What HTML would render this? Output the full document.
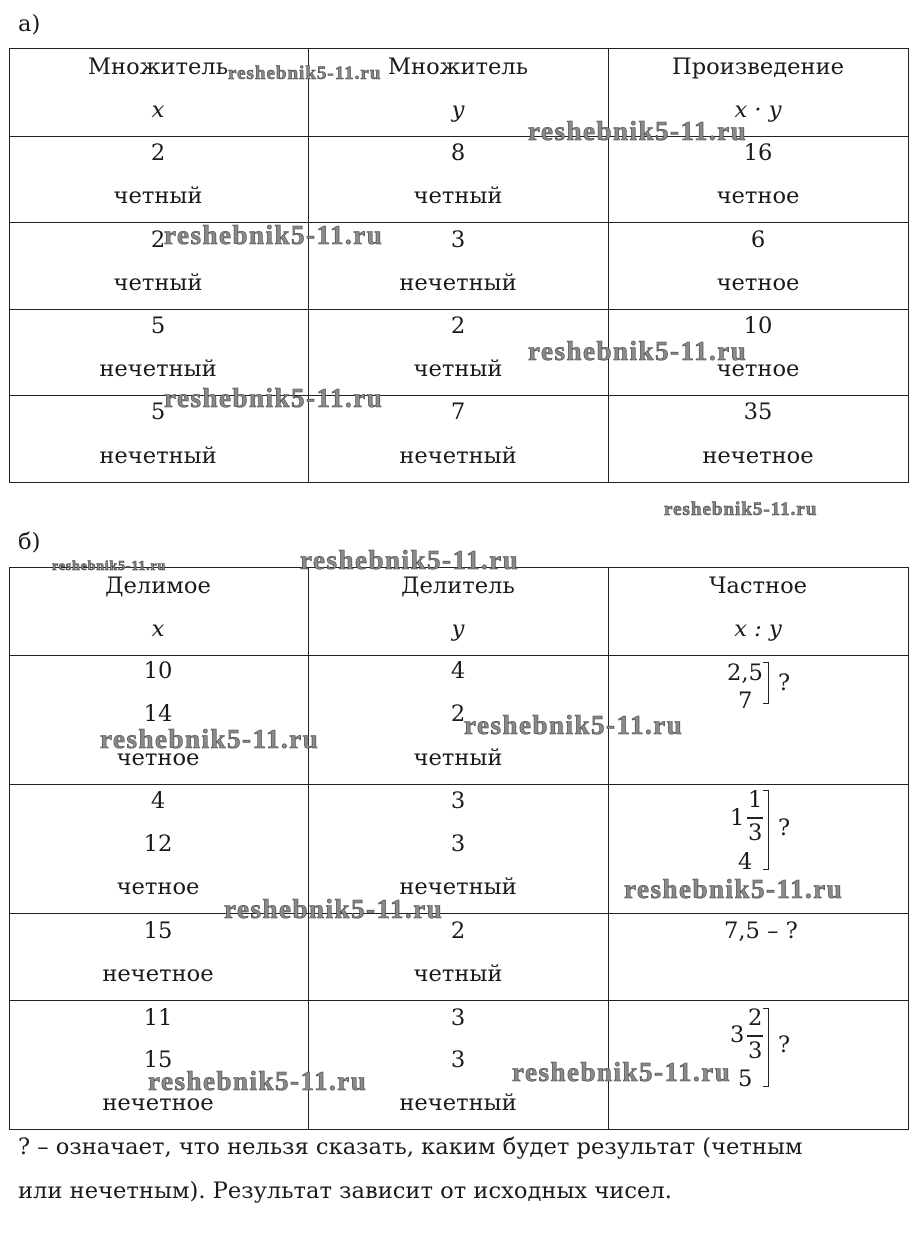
<!DOCTYPE html><html><head><meta charset="utf-8"><style>
body{margin:0;width:919px;height:1253px;background:#fff;position:relative;overflow:hidden;font-family:"DejaVu Serif","Liberation Serif",serif;color:#1a1a1a}
.t{position:absolute;font-size:22.6px;line-height:26px;white-space:nowrap;transform:translateX(-50%)}
.l{position:absolute;font-size:22.6px;line-height:26px;white-space:nowrap}
.i{font-style:italic}
.h{position:absolute;background:#222;height:1px}
.v{position:absolute;background:#222;width:1px}
.w{position:absolute;font-family:"Liberation Serif",serif;font-weight:bold;color:#8a8a8a;-webkit-text-stroke:0.6px #444;white-space:nowrap;line-height:1;font-size:27px;letter-spacing:1.5px}
.s{font-size:19px;letter-spacing:1px}
.xs{font-size:14px;letter-spacing:0.8px}
.br{position:absolute;border:1.5px solid #222;border-left:none;width:5px}
.fr{position:absolute;height:1.5px;background:#222;width:16px}
</style></head><body>
<div class="l" style="left:18px;top:11px">а)</div>
<div class="h" style="left:9px;width:900px;top:48px"></div>
<div class="h" style="left:9px;width:900px;top:136px"></div>
<div class="h" style="left:9px;width:900px;top:222px"></div>
<div class="h" style="left:9px;width:900px;top:309px"></div>
<div class="h" style="left:9px;width:900px;top:395px"></div>
<div class="h" style="left:9px;width:900px;top:482px"></div>
<div class="v" style="left:9px;top:48px;height:435px"></div>
<div class="v" style="left:308px;top:48px;height:435px"></div>
<div class="v" style="left:608px;top:48px;height:435px"></div>
<div class="v" style="left:908px;top:48px;height:435px"></div>

<div class="t" style="left:158px;top:54px">Множитель</div><div class="t i" style="left:158px;top:97px">x</div>
<div class="t" style="left:458px;top:54px">Множитель</div><div class="t i" style="left:458px;top:97px">y</div>
<div class="t" style="left:758px;top:54px">Произведение</div><div class="t i" style="left:758px;top:97px">x · y</div>

<div class="t" style="left:158px;top:140px">2</div><div class="t" style="left:158px;top:183px">четный</div>
<div class="t" style="left:458px;top:140px">8</div><div class="t" style="left:458px;top:183px">четный</div>
<div class="t" style="left:758px;top:140px">16</div><div class="t" style="left:758px;top:183px">четное</div>

<div class="t" style="left:158px;top:227px">2</div><div class="t" style="left:158px;top:270px">четный</div>
<div class="t" style="left:458px;top:227px">3</div><div class="t" style="left:458px;top:270px">нечетный</div>
<div class="t" style="left:758px;top:227px">6</div><div class="t" style="left:758px;top:270px">четное</div>

<div class="t" style="left:158px;top:313px">5</div><div class="t" style="left:158px;top:356px">нечетный</div>
<div class="t" style="left:458px;top:313px">2</div><div class="t" style="left:458px;top:356px">четный</div>
<div class="t" style="left:758px;top:313px">10</div><div class="t" style="left:758px;top:356px">четное</div>

<div class="t" style="left:158px;top:399px">5</div><div class="t" style="left:158px;top:443px">нечетный</div>
<div class="t" style="left:458px;top:399px">7</div><div class="t" style="left:458px;top:443px">нечетный</div>
<div class="t" style="left:758px;top:399px">35</div><div class="t" style="left:758px;top:443px">нечетное</div>

<div class="l" style="left:18px;top:529px">б)</div>
<div class="h" style="left:9px;width:900px;top:567px"></div>
<div class="h" style="left:9px;width:900px;top:655px"></div>
<div class="h" style="left:9px;width:900px;top:784px"></div>
<div class="h" style="left:9px;width:900px;top:913px"></div>
<div class="h" style="left:9px;width:900px;top:1000px"></div>
<div class="h" style="left:9px;width:900px;top:1129px"></div>
<div class="v" style="left:9px;top:567px;height:563px"></div>
<div class="v" style="left:308px;top:567px;height:563px"></div>
<div class="v" style="left:608px;top:567px;height:563px"></div>
<div class="v" style="left:908px;top:567px;height:563px"></div>

<div class="t" style="left:158px;top:573px">Делимое</div><div class="t i" style="left:158px;top:616px">x</div>
<div class="t" style="left:458px;top:573px">Делитель</div><div class="t i" style="left:458px;top:616px">y</div>
<div class="t" style="left:758px;top:573px">Частное</div><div class="t i" style="left:758px;top:616px">x : y</div>

<div class="t" style="left:158px;top:658px">10</div><div class="t" style="left:158px;top:701px">14</div><div class="t" style="left:158px;top:745px">четное</div>
<div class="t" style="left:458px;top:658px">4</div><div class="t" style="left:458px;top:701px">2</div><div class="t" style="left:458px;top:745px">четный</div>
<div class="l" style="left:727px;top:660px">2,5</div><div class="l" style="left:738px;top:688px">7</div>
<div class="br" style="left:763px;top:662px;height:40px"></div><div class="l" style="left:778px;top:670px">?</div>

<div class="t" style="left:158px;top:788px">4</div><div class="t" style="left:158px;top:831px">12</div><div class="t" style="left:158px;top:874px">четное</div>
<div class="t" style="left:458px;top:788px">3</div><div class="t" style="left:458px;top:831px">3</div><div class="t" style="left:458px;top:874px">нечетный</div>
<div class="l" style="left:730px;top:805px">1</div><div class="l" style="left:748px;top:787px">1</div><div class="fr" style="left:747px;top:817px"></div><div class="l" style="left:748px;top:820px">3</div><div class="l" style="left:738px;top:849px">4</div>
<div class="br" style="left:763px;top:790px;height:78px"></div><div class="l" style="left:778px;top:815px">?</div>

<div class="t" style="left:158px;top:918px">15</div><div class="t" style="left:158px;top:961px">нечетное</div>
<div class="t" style="left:458px;top:918px">2</div><div class="t" style="left:458px;top:961px">четный</div>
<div class="l" style="left:724px;top:918px">7,5 – ?</div>

<div class="t" style="left:158px;top:1005px">11</div><div class="t" style="left:158px;top:1047px">15</div><div class="t" style="left:158px;top:1090px">нечетное</div>
<div class="t" style="left:458px;top:1005px">3</div><div class="t" style="left:458px;top:1047px">3</div><div class="t" style="left:458px;top:1090px">нечетный</div>
<div class="l" style="left:730px;top:1022px">3</div><div class="l" style="left:748px;top:1005px">2</div><div class="fr" style="left:747px;top:1035px"></div><div class="l" style="left:748px;top:1038px">3</div><div class="l" style="left:738px;top:1066px">5</div>
<div class="br" style="left:763px;top:1008px;height:77px"></div><div class="l" style="left:778px;top:1032px">?</div>

<div class="l" style="left:18px;top:1134px">? – означает, что нельзя сказать, каким будет результат (четным</div>
<div class="l" style="left:18px;top:1178px">или нечетным). Результат зависит от исходных чисел.</div>

<div class="w s" style="left:228px;top:64px">reshebnik5-11.ru</div>
<div class="w" style="left:528px;top:118px">reshebnik5-11.ru</div>
<div class="w" style="left:164px;top:222px">reshebnik5-11.ru</div>
<div class="w" style="left:528px;top:338px">reshebnik5-11.ru</div>
<div class="w" style="left:164px;top:385px">reshebnik5-11.ru</div>
<div class="w s" style="left:664px;top:500px">reshebnik5-11.ru</div>
<div class="w xs" style="left:52px;top:560px">reshebnik5-11.ru</div>
<div class="w" style="left:300px;top:547px">reshebnik5-11.ru</div>
<div class="w" style="left:464px;top:712px">reshebnik5-11.ru</div>
<div class="w" style="left:100px;top:726px">reshebnik5-11.ru</div>
<div class="w" style="left:624px;top:876px">reshebnik5-11.ru</div>
<div class="w" style="left:224px;top:896px">reshebnik5-11.ru</div>
<div class="w" style="left:512px;top:1059px">reshebnik5-11.ru</div>
<div class="w" style="left:148px;top:1068px">reshebnik5-11.ru</div>
</body></html>
